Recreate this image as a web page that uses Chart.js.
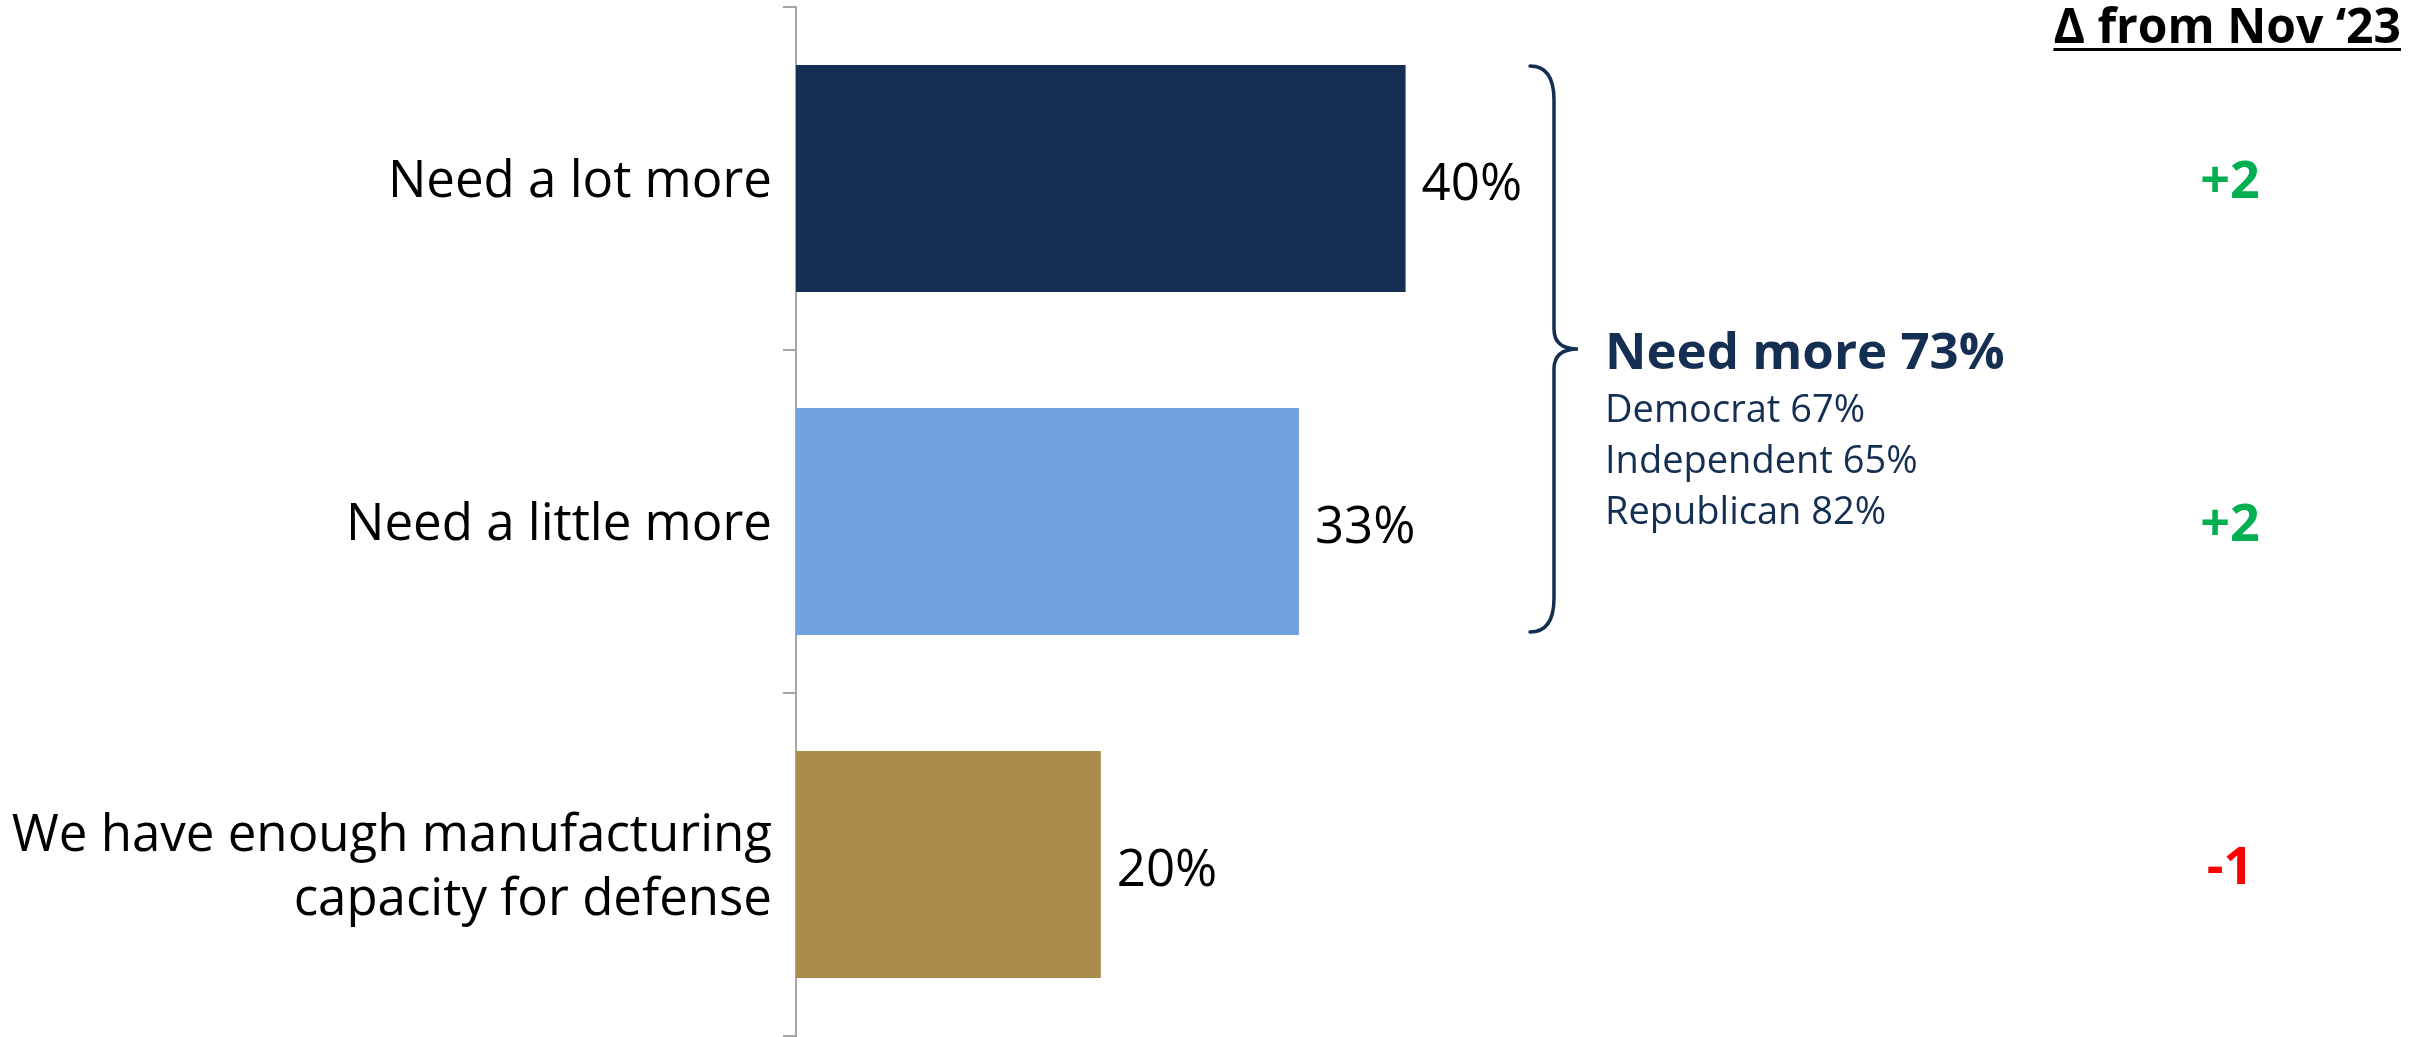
<!DOCTYPE html>
<html>
<head>
<meta charset="utf-8">
<script src="https://cdn.jsdelivr.net/npm/chart.js@4/dist/chart.umd.min.js"></script>
<style>
  html, body { margin: 0; padding: 0; background: #ffffff; }
  #wrap { width: 2423px; height: 1037px; position: relative; }
</style>
</head>
<body>
<div id="wrap"><canvas id="c" width="2423" height="1037"></canvas></div>
<script>
// ---- data ----
const categories = [
  'Need a lot more',
  'Need a little more',
  ['We have enough manufacturing', 'capacity for defense']
];
const values = [40, 33, 20];
const barColors = ['#152F53', '#70A2DD', '#AA8C4A'];
const deltas = ['+2', '+2', '-1'];
const deltaColors = ['#00B050', '#00B050', '#FF0000'];
const deltaTitle = '\u0394 from Nov \u201823';
const braceTitle = 'Need more 73%';
const braceLines = ['Democrat 67%', 'Independent 65%', 'Republican 82%'];

const FONT = '"Open Sans", "Noto Sans", sans-serif';
const NAVY = '#152F53';

const overlay = {
  id: 'overlay',
  afterDatasetsDraw(chart) {
    const ctx = chart.ctx;
    const meta = chart.getDatasetMeta(0);
    const yScale = chart.scales.y;
    ctx.save();

    // value labels
    ctx.font = '51px ' + FONT;
    ctx.fillStyle = '#000000';
    ctx.textAlign = 'left';
    ctx.textBaseline = 'alphabetic';
    meta.data.forEach((bar, i) => {
      ctx.fillText(values[i] + '%', bar.x + 16, bar.y + 21);
    });

    // brace spanning first two bars
    const b0 = meta.data[0], b1 = meta.data[1];
    const top = b0.y - b0.height / 2 + 1;
    const bottom = b1.y + b1.height / 2 - 3;
    const mid = (top + bottom) / 2;
    const x0 = 1530, x1 = 1554, x2 = 1578;
    ctx.strokeStyle = NAVY;
    ctx.lineWidth = 3.5;
    ctx.lineCap = 'round';
    ctx.beginPath();
    ctx.moveTo(x0, top);
    ctx.quadraticCurveTo(x1, top, x1, top + 34);
    ctx.lineTo(x1, mid - 20);
    ctx.quadraticCurveTo(x1, mid, x2, mid);
    ctx.quadraticCurveTo(x1, mid, x1, mid + 20);
    ctx.lineTo(x1, bottom - 34);
    ctx.quadraticCurveTo(x1, bottom, x0, bottom);
    ctx.stroke();

    // brace text
    ctx.fillStyle = NAVY;
    ctx.font = 'bold 51px ' + FONT;
    ctx.fillText(braceTitle, 1605, 369);
    ctx.font = '38px ' + FONT;
    braceLines.forEach((t, i) => ctx.fillText(t, 1605, 422 + i * 51));

    // delta column title
    ctx.font = 'bold 48px ' + FONT;
    ctx.fillStyle = '#000000';
    ctx.textAlign = 'right';
    ctx.fillText(deltaTitle, 2401, 43);
    const tw = ctx.measureText(deltaTitle).width;
    ctx.fillRect(2401 - tw, 48, tw, 3);

    // delta values
    ctx.font = 'bold 52px ' + FONT;
    ctx.textAlign = 'center';
    deltas.forEach((d, i) => {
      ctx.fillStyle = deltaColors[i];
      ctx.fillText(d, 2230, yScale.getPixelForValue(i) + 19);
    });
    ctx.restore();
  }
};

function draw() {
  new Chart(document.getElementById('c'), {
    type: 'bar',
    data: {
      labels: categories,
      datasets: [{
        data: values,
        backgroundColor: barColors,
        borderWidth: 0,
        barPercentage: 0.662,
        categoryPercentage: 1.0
      }]
    },
    options: {
      indexAxis: 'y',
      responsive: false,
      animation: false,
      devicePixelRatio: 1,
      layout: { padding: { left: 0, right: 103, top: 7, bottom: 1 } },
      plugins: { legend: { display: false }, tooltip: { enabled: false } },
      scales: {
        x: { display: false, min: 0, max: 100 },
        y: {
          offset: true,
          afterFit(scale) {
            scale.width = 796;
            scale.paddingTop = 0;
            scale.paddingBottom = 0;
          },
          border: { display: true, color: '#A6A6A6', width: 2 },
          grid: { drawOnChartArea: false, drawTicks: true, tickLength: 13, color: '#A6A6A6', lineWidth: 2, offset: true },
          ticks: { color: '#000000', padding: 11, labelOffset: 4, font: { family: FONT, size: 51, lineHeight: 1.25 } }
        }
      }
    },
    plugins: [overlay]
  });
}

Promise.all([
  document.fonts.load('51px "Open Sans"'),
  document.fonts.load('bold 51px "Open Sans"')
]).then(draw, draw);
</script>
</body>
</html>
